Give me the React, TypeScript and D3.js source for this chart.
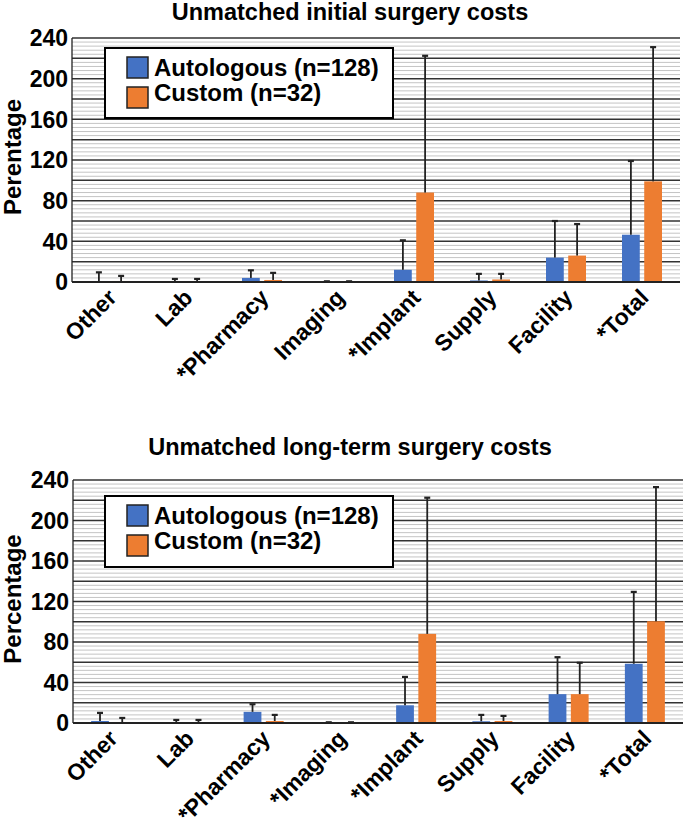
import React from "react";
import * as d3 from "d3";

const categoriesTop = ["Other", "Lab", "*Pharmacy", "Imaging", "*Implant", "Supply", "Facility", "*Total"];
const categoriesBottom = ["Other", "Lab", "*Pharmacy", "*Imaging", "*Implant", "Supply", "Facility", "*Total"];

const seriesNames = ["Autologous (n=128)", "Custom (n=32)"];
const seriesColors = ["#4472C4", "#ED7D31"];

// Initial surgery costs: mean and upper error-bar end
const initialAuto = [1, 0, 4, 0, 12, 1.5, 24, 46.5];
const initialAutoUpper = [9.5, 3, 11.5, 0.7, 41, 8, 60, 119];
const initialCustom = [1, 0, 2, 0, 88, 2.5, 26, 99];
const initialCustomUpper = [6, 3, 9, 0.7, 222.5, 8, 57, 231];

// Long-term surgery costs
const longAuto = [2, 0, 11, 0, 17.5, 1.7, 28.5, 58.5];
const longAutoUpper = [10, 3, 18.5, 0.7, 45.5, 8, 65, 129.5];
const longCustom = [1, 0, 2, 0, 88, 2, 28.5, 100.5];
const longCustomUpper = [5, 3, 8, 0.7, 222.5, 7, 59.5, 233];

const yTicks = [0, 40, 80, 120, 160, 200, 240];

const FONT = "'Liberation Sans', Arial, Helvetica, sans-serif";

type PanelProps = {
  title: string;
  yLabel: string;
  categories: string[];
  values: number[][];
  uppers: number[][];
  x0: number;
  x1: number;
  yTop: number;
  yBottom: number;
  titleY: number;
  yLabelCenter: number;
  legend: { x: number; y: number; w: number; h: number };
};

function Panel(p: PanelProps) {
  const x = d3.scaleBand<string>().domain(p.categories).range([p.x0, p.x1]).padding(0);
  const sub = d3.scaleBand<number>().domain([0, 1]).range([0, 40]).paddingInner(0.2);
  const y = d3.scaleLinear().domain([0, 240]).range([p.yBottom, p.yTop]);
  const minor = d3.range(0, 241, 4).filter((v) => v % 20 !== 0);
  const major = d3.range(20, 241, 20);
  const capW = 6;
  return (
    <g>
      <text x={350} y={p.titleY} textAnchor="middle" fontFamily={FONT} fontWeight="bold" fontSize={23.5} fill="#000">
        {p.title}
      </text>
      {minor.map((v) => (
        <line key={"mi" + v} x1={p.x0} x2={p.x1} y1={y(v)} y2={y(v)} stroke="#c4c4c4" strokeWidth={1} />
      ))}
      {major.map((v) => (
        <line key={"ma" + v} x1={p.x0} x2={p.x1} y1={y(v)} y2={y(v)} stroke="#333" strokeWidth={1.5} />
      ))}
      <line x1={p.x0} x2={p.x0} y1={p.yTop} y2={p.yBottom} stroke="#222" strokeWidth={1.3} />
      {p.values.map((vals, s) =>
        vals.map((v, i) => {
          const cx = (x(p.categories[i]) as number) + x.bandwidth() / 2 - 20 + (sub(s) as number);
          const bw = sub.bandwidth();
          const h = Math.max(0, y(0) - y(v));
          return (
            <rect key={"b" + s + i} x={cx} y={y(v)} width={bw} height={h} fill={seriesColors[s]} />
          );
        })
      )}
      <line x1={p.x0} x2={p.x1} y1={p.yBottom} y2={p.yBottom} stroke="#222" strokeWidth={1.8} />
      {p.uppers.map((ups, s) =>
        ups.map((u, i) => {
          const cx = (x(p.categories[i]) as number) + x.bandwidth() / 2 - 20 + (sub(s) as number) + sub.bandwidth() / 2;
          const v = p.values[s][i];
          return (
            <g key={"e" + s + i}>
              <line x1={cx} x2={cx} y1={y(v)} y2={y(u)} stroke="#222" strokeWidth={1.8} />
              <line x1={cx - capW / 2} x2={cx + capW / 2} y1={y(u)} y2={y(u)} stroke="#222" strokeWidth={2.2} />
            </g>
          );
        })
      )}
      {yTicks.map((t) => (
        <text key={"yt" + t} x={p.x0 - 4} y={y(t)} dy="0.36em" textAnchor="end" fontFamily={FONT} fontWeight="bold" fontSize={23} fill="#000">
          {t}
        </text>
      ))}
      <text
        transform={`translate(21,${p.yLabelCenter}) rotate(-90)`}
        textAnchor="middle"
        fontFamily={FONT}
        fontWeight="bold"
        fontSize={24}
        fill="#000"
      >
        {p.yLabel}
      </text>
      {p.categories.map((c) => {
        const cx = (x(c) as number) + x.bandwidth() / 2 + 8;
        return (
          <text
            key={"xc" + c}
            transform={`translate(${cx},${p.yBottom + 17}) rotate(-45)`}
            textAnchor="end"
            fontFamily={FONT}
            fontWeight="bold"
            fontSize={23}
            fill="#000"
          >
            {c}
          </text>
        );
      })}
      <rect x={p.legend.x} y={p.legend.y} width={p.legend.w} height={p.legend.h} fill="#fff" stroke="#000" strokeWidth={2} />
      {seriesNames.map((n, s) => (
        <g key={"lg" + s}>
          <rect x={p.legend.x + 22} y={p.legend.y + 9 + s * 30} width={21} height={21} fill={seriesColors[s]} stroke="#222" strokeWidth={1.5} />
          <text x={p.legend.x + 49} y={p.legend.y + 28 + s * 24.5} fontFamily={FONT} fontWeight="bold" fontSize={24} fill="#000">
            {n}
          </text>
        </g>
      ))}
    </g>
  );
}

export default function App() {
  return (
    <svg width={687} height={828} style={{ position: "absolute", left: 0, top: 0, background: "#fff" }}>
      <rect x={0} y={0} width={687} height={828} fill="#fff" />
      <Panel
        title="Unmatched initial surgery costs"
        yLabel="Perentage"
        categories={categoriesTop}
        values={[initialAuto, initialCustom]}
        uppers={[initialAutoUpper, initialCustomUpper]}
        x0={72}
        x1={680}
        yTop={38}
        yBottom={282}
        titleY={20}
        yLabelCenter={157}
        legend={{ x: 105, y: 48, w: 288, h: 70 }}
      />
      <Panel
        title="Unmatched long-term surgery costs"
        yLabel="Percentage"
        categories={categoriesBottom}
        values={[longAuto, longCustom]}
        uppers={[longAutoUpper, longCustomUpper]}
        x0={73}
        x1={683}
        yTop={480}
        yBottom={723}
        titleY={455}
        yLabelCenter={599}
        legend={{ x: 105, y: 496, w: 288, h: 71 }}
      />
    </svg>
  );
}
